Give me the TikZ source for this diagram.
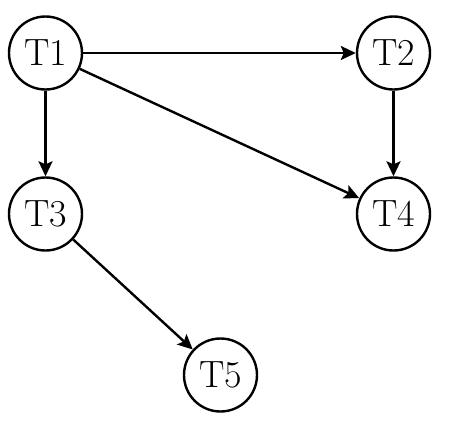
\documentclass[tikz,border=0pt]{standalone}
\usetikzlibrary{arrows.meta}
\begin{document}
\begin{tikzpicture}[x=1pt,y=-1pt,
  task/.style={circle,draw,line width=2.4pt,minimum size=73pt,inner sep=0pt,font=\fontsize{38}{40}\selectfont},
  edge/.style={line width=2.4pt,-{Stealth[length=15pt,width=14pt,inset=3pt]}}]
\useasboundingbox (0,0) rectangle (472,432);
\node[task] (T1) at (45.5,53) {T1};
\node[task] (T2) at (393.5,53) {T2};
\node[task] (T3) at (45.5,214) {T3};
\node[task] (T4) at (393.5,214) {T4};
\node[task] (T5) at (220.5,375) {T5};
\draw[edge] (T1) -- (T2);
\draw[edge] (T1) -- (T4);
\draw[edge] (T1) -- (T3);
\draw[edge] (T2) -- (T4);
\draw[edge] (T3) -- (T5);
\end{tikzpicture}
\end{document}
